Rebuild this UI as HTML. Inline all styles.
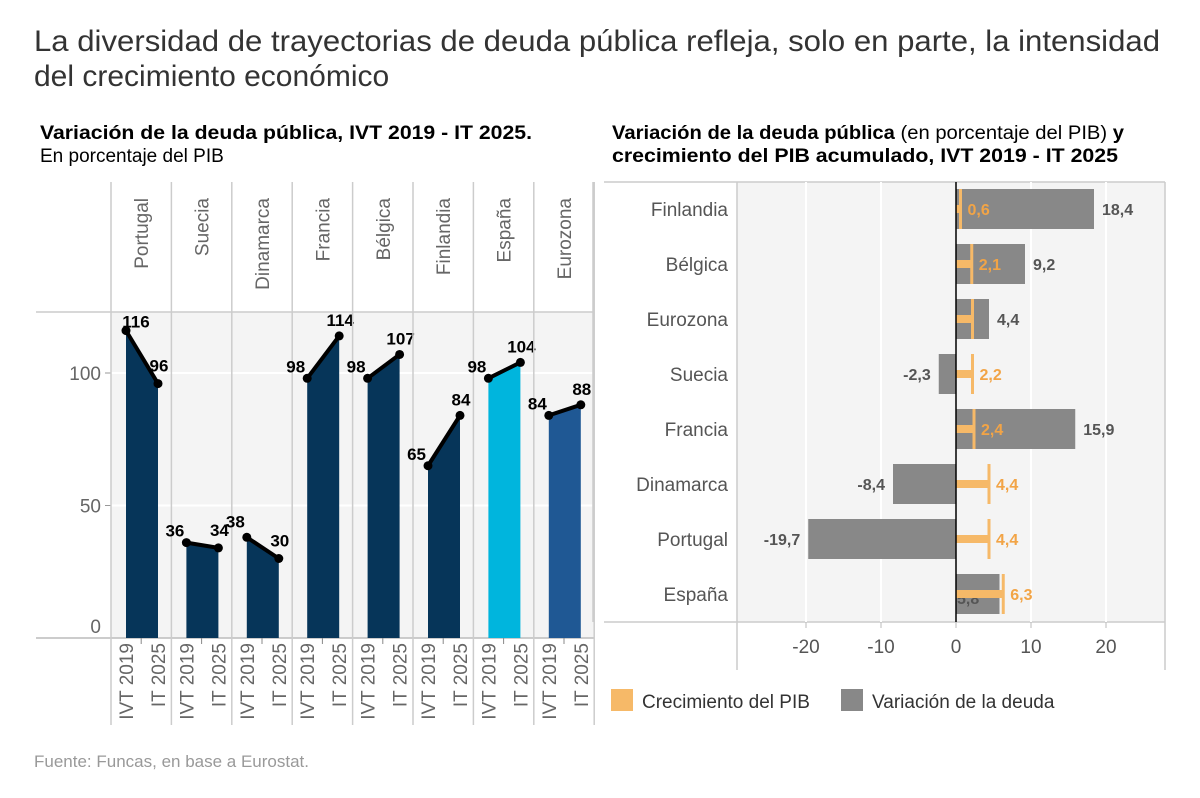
<!DOCTYPE html>
<html><head><meta charset="utf-8">
<style>
body{margin:0;background:#fff;font-family:"Liberation Sans",Arial,sans-serif;}
#wrap{position:relative;width:1200px;height:798px;overflow:hidden;}
svg text{font-family:"Liberation Sans",Arial,sans-serif;}
</style></head>
<body>
<div id="wrap">
<svg id="svg" width="1200" height="798" xmlns="http://www.w3.org/2000/svg">
<text x="34" y="51" font-size="30" fill="#333" textLength="1126" lengthAdjust="spacingAndGlyphs">La diversidad de trayectorias de deuda pública refleja, solo en parte, la intensidad</text>
<text x="34" y="86" font-size="30" fill="#333">del crecimiento económico</text>
<text x="40" y="139" font-size="19" font-weight="bold" fill="#000" textLength="492" lengthAdjust="spacingAndGlyphs">Variación de la deuda pública, IVT 2019 - IT 2025.</text>
<text x="40" y="162" font-size="19" fill="#000">En porcentaje del PIB</text>
<text x="612" y="139" font-size="19" fill="#000" textLength="512" lengthAdjust="spacingAndGlyphs"><tspan font-weight="bold">Variación de la deuda pública</tspan> (en porcentaje del PIB) <tspan font-weight="bold">y</tspan></text>
<text x="612" y="162" font-size="19" font-weight="bold" fill="#000" textLength="506" lengthAdjust="spacingAndGlyphs">crecimiento del PIB acumulado, IVT 2019 - IT 2025</text>
<text x="34" y="767" font-size="17" fill="#999">Fuente: Funcas, en base a Eurostat.</text>
<g id="left"></g>
<g id="right"></g>
</svg>
</div>
<script>
const leftCountries=["Portugal","Suecia","Dinamarca","Francia","Bélgica","Finlandia","España","Eurozona"];
const debt2019=[116,36,38,98,98,65,98,84];
const debt2025=[96,34,30,114,107,84,104,88];
const leftTicks=[0,50,100];
const periods=["IVT 2019","IT 2025"];

const rightCountries=["Finlandia","Bélgica","Eurozona","Suecia","Francia","Dinamarca","Portugal","España"];
const debtChange=[18.4,9.2,4.4,-2.3,15.9,-8.4,-19.7,5.8];
const gdpGrowth=[0.6,2.1,2.2,2.2,2.4,4.4,4.4,6.3];
const rightTicks=[-20,-10,0,10,20];
const gdpLabels=["0,6","2,1","","2,2","2,4","4,4","4,4","6,3"];

const NS="http://www.w3.org/2000/svg";
function mk(parent,tag,attrs,txt){const e=document.createElementNS(NS,tag);for(const k in attrs)e.setAttribute(k,attrs[k]);if(txt!==undefined)e.textContent=txt;parent.appendChild(e);return e;}
const fmt=v=>String(v).replace('.',',');

// LEFT CHART
const L=document.getElementById('left');
const colX0=111,colW=60.4,yTop=182,yHead=312,yBase=638;
const yL=v=>yBase-v*2.65;
mk(L,'rect',{x:colX0,y:yHead,width:colW*8,height:yBase-yHead,fill:'#f4f4f4'});
leftTicks.forEach(t=>{
  if(t>0){const g=mk(L,'line',{x1:colX0,x2:colX0+colW*8,y1:yL(t),y2:yL(t),stroke:'#fff','stroke-width':2});}
  mk(L,'line',{x1:colX0-6,x2:colX0,y1:yL(t),y2:yL(t),stroke:'#999'});
  const tx=mk(L,'text',{x:colX0-10,y:yL(t)+(t===0?-5:7),'font-size':19,fill:'#666','text-anchor':'end'},t);
  
});
mk(L,'line',{x1:36,x2:colX0+colW*8,y1:yHead,y2:yHead,stroke:'#ccc','stroke-width':1.5});
mk(L,'line',{x1:36,x2:colX0+colW*8,y1:yBase,y2:yBase,stroke:'#bbb','stroke-width':1.5});
const colors=["#063559","#063559","#063559","#063559","#063559","#063559","#00b5dd","#1f5894"];
leftCountries.forEach((c,i)=>{
  const x=colX0+i*colW;
  mk(L,'line',{x1:x,x2:x,y1:yTop,y2:725,stroke:'#ccc','stroke-width':1.5});
  if(i===7)mk(L,'line',{x1:x+colW,x2:x+colW,y1:yTop,y2:725,stroke:'#ccc','stroke-width':1.5});
  const lab=mk(L,'text',{transform:`translate(${x+colW/2+7},${yTop+16}) rotate(-90)`,'font-size':19,fill:'#666','text-anchor':'end'},c);
  
  const xa=x+15,xb=x+47;
  const p=mk(L,'polygon',{points:`${xa},${yBase} ${xa},${yL(debt2019[i])} ${xb},${yL(debt2025[i])} ${xb},${yBase}`,fill:colors[i]});
  
  const ln=mk(L,'line',{x1:xa,y1:yL(debt2019[i]),x2:xb,y2:yL(debt2025[i]),stroke:'#000','stroke-width':4});
  
  [[xa,debt2019[i]],[xb,debt2025[i]]].forEach(([px,v],k)=>{
    const d=mk(L,'circle',{cx:px,cy:yL(v),r:4.5,fill:'#000'});
    
    let tx=k===0?px-2:px+1, anchor=k===0?'end':'middle', ty=k===0?yL(v)-6:yL(v)-10;
    if(k===0&&i===0){tx=px+10;anchor='middle';ty=yL(v)-3;}
    if(k===0&&i===2){ty=yL(v)-10;}
    if(k===1&&(i===0||i===1||i===2)){ty=yL(v)-12;}
    const t=mk(L,'text',{x:tx,y:ty,'font-size':17,'font-weight':'bold',fill:'#000','text-anchor':anchor},v);
    
  });
  periods.forEach((pl,k)=>{
    const px=x+15+k*32;
    const t=mk(L,'text',{transform:`translate(${px+7},${yBase+5}) rotate(-90)`,'font-size':19,fill:'#666','text-anchor':'end'},pl);
    
  });
  mk(L,'line',{x1:x+colW/2,x2:x+colW/2,y1:yBase,y2:yBase+6,stroke:'#888'});
});

// RIGHT CHART
const R=document.getElementById('right');
const pX0=737,pX1=1165,pY0=182,pY1=622,x0=956,sc=7.5,row0=209,rowH=55;
const xR=v=>x0+v*sc;
mk(R,'rect',{x:pX0,y:pY0,width:pX1-pX0,height:pY1-pY0,fill:'#f4f4f4'});
mk(R,'line',{x1:604,x2:pX1,y1:pY0,y2:pY0,stroke:'#ccc','stroke-width':1.5});
mk(R,'line',{x1:604,x2:pX1,y1:pY1,y2:pY1,stroke:'#ccc','stroke-width':1.5});
mk(R,'line',{x1:593,x2:593,y1:pY0,y2:pY1,stroke:'#ccc','stroke-width':1.5});
mk(R,'line',{x1:pX0,x2:pX0,y1:pY0,y2:670,stroke:'#ccc','stroke-width':1.5});
mk(R,'line',{x1:pX1,x2:pX1,y1:pY0,y2:670,stroke:'#ccc','stroke-width':1.5});
rightTicks.forEach(t=>{
  if(t!==0){const g=mk(R,'line',{x1:xR(t),x2:xR(t),y1:pY0,y2:pY1,stroke:'#fff','stroke-width':2});}
  mk(R,'line',{x1:xR(t),x2:xR(t),y1:pY1,y2:pY1+6,stroke:'#bbb'});
  const tx=mk(R,'text',{x:xR(t),y:653,'font-size':19,fill:'#555','text-anchor':'middle'},t);
  
});
rightCountries.forEach((c,i)=>{
  const y=row0+i*rowH;
  const lab=mk(R,'text',{x:728,y:y+7,'font-size':19,fill:'#555','text-anchor':'end'},c);
  
  const v=debtChange[i];
  const b=mk(R,'rect',{x:Math.min(xR(0),xR(v)),y:y-20,width:Math.abs(xR(v)-xR(0)),height:40,fill:'#888'});
  
  const dl=mk(R,'text',{x:v>=0?xR(v)+8:xR(v)-8,y:y+6,'font-size':16,'font-weight':'bold',fill:'#555','text-anchor':v>=0?'start':'end'},fmt(v));
  if(i===7){dl.setAttribute('x',xR(0)+1);dl.setAttribute('text-anchor','start');dl.setAttribute('y',y+10);}
  
  const g=gdpGrowth[i];
  const gb=mk(R,'rect',{x:xR(0),y:y-4,width:xR(g)-xR(0),height:8,fill:'#f6b968'});
  
  const gt=mk(R,'rect',{x:xR(g)-1.5,y:y-20,width:3,height:40,fill:'#f6b968'});
  
  if(gdpLabels[i]){const gl=mk(R,'text',{x:xR(g)+7,y:y+6,'font-size':16,'font-weight':'bold',fill:'#f2a446'},gdpLabels[i]);
  }
});
mk(R,'line',{x1:x0,x2:x0,y1:pY0,y2:pY1,stroke:'#000','stroke-width':1.5});
// legend
const l1=mk(R,'rect',{x:611,y:689,width:22,height:22,fill:'#f6b968'});
const t1=mk(R,'text',{x:642,y:708,'font-size':19,fill:'#333'},'Crecimiento del PIB');
const l2=mk(R,'rect',{x:841,y:689,width:22,height:22,fill:'#888'});
const t2=mk(R,'text',{x:872,y:708,'font-size':19,fill:'#333'},'Variación de la deuda');
</script>
</body></html>
